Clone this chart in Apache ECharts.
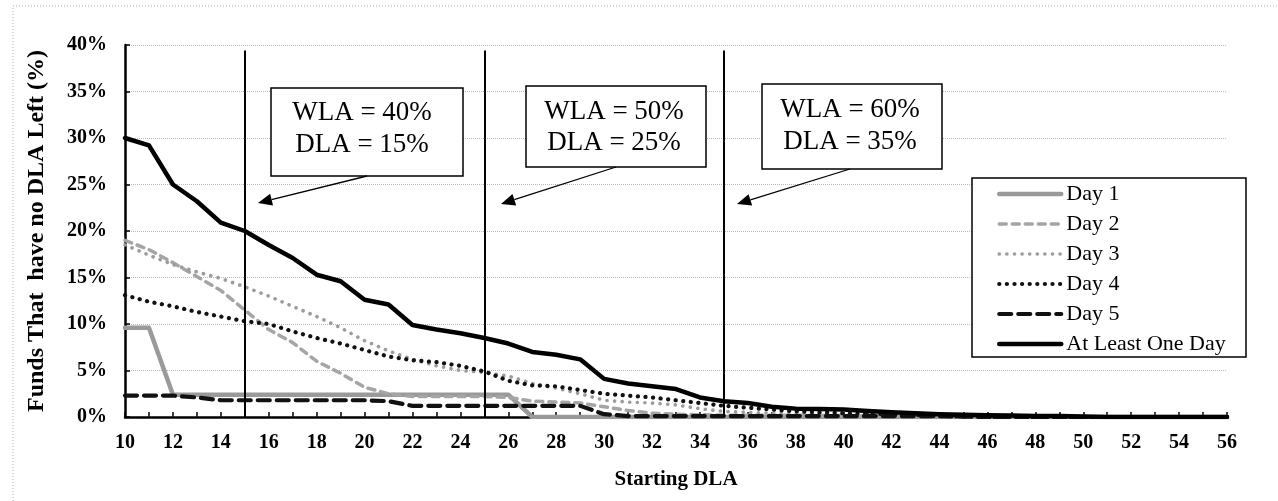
<!DOCTYPE html>
<html>
<head>
<meta charset="utf-8">
<script src="https://cdn.jsdelivr.net/npm/echarts@6/dist/echarts.min.js"></script>
<style>
html,body{margin:0;padding:0;background:#fff;}
#chart{width:1278px;height:501px;}
</style>
</head>
<body>
<div id="chart"></div>
<script>
// ---- data ----
var startingDLA = [10,11,12,13,14,15,16,17,18,19,20,21,22,23,24,25,26,27,28,29,30,31,32,33,34,35,36,37,38,39,40,41,42,43,44,45,46,47,48,49,50,51,52,53,54,55,56];
var day1 = [9.6,9.6,2.4,2.4,2.4,2.4,2.4,2.4,2.4,2.4,2.4,2.4,2.4,2.4,2.4,2.4,2.4,0,0,0,0,0,0,0,0,0,0,0,0,0,0,0,0,0,0,0,0,0,0,0,0,0,0,0,0,0,0];
var day2 = [19.0,18.0,16.6,15.1,13.6,11.5,9.4,8.0,6.0,4.7,3.2,2.5,2.2,2.2,2.2,2.2,2.1,1.7,1.6,1.5,1.1,0.7,0.4,0.3,0.25,0.2,0.2,0.2,0.2,0.15,0.15,0.1,0.1,0.1,0.05,0.05,0,0,0,0,0,0,0,0,0,0,0];
var day3 = [18.5,17.4,16.4,15.6,14.9,14.0,13.0,11.9,10.8,9.6,8.2,7.1,6.2,5.5,5.0,4.8,4.4,3.6,3.1,2.5,1.8,1.6,1.5,1.3,0.9,0.6,0.5,0.4,0.35,0.3,0.3,0.25,0.2,0.15,0.1,0.05,0,0,0,0,0,0,0,0,0,0,0];
var day4 = [13.1,12.4,11.9,11.3,10.8,10.3,10.0,9.2,8.5,7.9,7.2,6.5,6.1,5.9,5.5,4.9,3.9,3.4,3.3,2.9,2.5,2.3,2.1,1.8,1.5,1.2,1.0,0.8,0.6,0.5,0.4,0.35,0.3,0.2,0.1,0.05,0,0,0,0,0,0,0,0,0,0,0];
var day5 = [2.3,2.3,2.3,2.1,1.8,1.8,1.8,1.8,1.8,1.8,1.8,1.7,1.2,1.2,1.2,1.2,1.2,1.2,1.2,1.2,0.3,0.1,0.1,0.1,0.1,0.1,0.1,0.1,0.1,0.1,0.1,0.1,0.1,0.1,0.1,0.05,0,0,0,0,0,0,0,0,0,0,0];
var atLeastOneDay = [30.0,29.2,25.0,23.2,20.9,20.0,18.5,17.1,15.3,14.6,12.6,12.1,9.9,9.4,9.0,8.5,7.9,7.0,6.7,6.2,4.1,3.6,3.3,3.0,2.1,1.7,1.5,1.1,0.9,0.85,0.8,0.65,0.5,0.4,0.3,0.25,0.2,0.15,0.1,0.1,0.05,0,0,0,0,0,0];
var seriesNames = ['Day 1','Day 2','Day 3','Day 4','Day 5','At Least One Day'];
var thresholdDLA = [15, 25, 35];
var boxLines = [['WLA = 40%','DLA = 15%'],['WLA = 50%','DLA = 25%'],['WLA = 60%','DLA = 35%']];
var yTicks = {min:0, max:40, interval:5};
var xTicks = {min:10, max:56, interval:1};

function pairs(arr){ return startingDLA.map(function(x,i){ return [x, arr[i]]; }); }

var SERIF = "'Liberation Serif','Times New Roman',serif";

var chart = echarts.init(document.getElementById('chart'), null, {renderer:'canvas'});

var styles = [
  {color:'#9a9a9a', width:4.5, type:'solid', z:3},
  {color:'#a5a5a5', width:3.5, type:[7,6], z:3},
  {color:'#9c9c9c', width:3.6, type:[0.1,7.5], z:3},
  {color:'#111111', width:4.2, type:[0.1,7.5], z:4},
  {color:'#111111', width:4.2, type:[12,7], z:4},
  {color:'#000000', width:4.5, type:'solid', z:5}
];
var seriesData = [day1, day2, day3, day4, day5, atLeastOneDay];

var series = seriesNames.map(function(name, i){
  var s = styles[i];
  return {
    name: name, type: 'line', data: pairs(seriesData[i]), symbol: 'none', showSymbol:false,
    z: s.z, animation: false, silent: true,
    lineStyle: { color: s.color, width: s.width, type: s.type, cap: 'round', join:'round' },
    itemStyle: { color: s.color, opacity: 0 }
  };
});
series[5].markLine = {
  silent: true, symbol: ['none','none'], animation:false,
  label: {show:false},
  lineStyle: { color:'#000', width: 2, type:'solid', opacity:1 },
  data: thresholdDLA.map(function(v){ return [{coord:[v,0]},{coord:[v,39.4]}]; })
};

// annotation geometry (pixels)
var boxes = [
  {l:271, t:88, r:463, b:176, tx:362, ty1:113, ty2:145, from:[367,176], tip:[258,203]},
  {l:526, t:86, r:706, b:167, tx:614, ty1:112, ty2:143, from:[616,167], tip:[501,204]},
  {l:762, t:84, r:942, b:169, tx:850, ty1:110, ty2:142, from:[850,169], tip:[737,204]}
];
var graphics = [];
graphics.push({type:'polyline', shape:{points:[[13,501],[13,6],[1278,6]]}, style:{stroke:'#b0b0b0', lineWidth:1, lineDash:[1,2], fill:null}, z:1, silent:true});
boxes.forEach(function(bx, i){
  graphics.push({type:'rect', shape:{x:bx.l, y:bx.t, width:bx.r-bx.l, height:bx.b-bx.t}, style:{fill:'#fff', stroke:'#000', lineWidth:1.5}, z:20, silent:true});
  graphics.push({type:'text', x:bx.tx, y:bx.ty1, style:{text:boxLines[i][0], font:'27px '+SERIF, fill:'#000', textAlign:'center', textVerticalAlign:'middle'}, z:21, silent:true});
  graphics.push({type:'text', x:bx.tx, y:bx.ty2, style:{text:boxLines[i][1], font:'27px '+SERIF, fill:'#000', textAlign:'center', textVerticalAlign:'middle'}, z:21, silent:true});
  var dx = bx.tip[0]-bx.from[0], dy = bx.tip[1]-bx.from[1];
  var len = Math.sqrt(dx*dx+dy*dy), ux = dx/len, uy = dy/len;
  var hl = 14, hw = 6;
  var bxp = bx.tip[0]-ux*hl, byp = bx.tip[1]-uy*hl;
  graphics.push({type:'line', shape:{x1:bx.from[0], y1:bx.from[1], x2:bxp, y2:byp}, style:{stroke:'#000', lineWidth:1.3}, z:20, silent:true});
  graphics.push({type:'polygon', shape:{points:[[bx.tip[0],bx.tip[1]],[bxp-uy*hw, byp+ux*hw],[bxp+uy*hw, byp-ux*hw]]}, style:{fill:'#000'}, z:20, silent:true});
});
graphics.push({type:'rect', shape:{x:972, y:178, width:274, height:179}, style:{fill:'#fff', stroke:'#000', lineWidth:1.5}, z:20, silent:true});

var option = {
  backgroundColor: '#fff',
  animation: false,
  grid: { left:125, right:51, top:45, bottom:84, containLabel:false },
  legend: {
    orient:'vertical', left: 997, top: 183, z: 30, padding: 0,
    itemWidth: 62, itemHeight: 22, itemGap: 8,
    data: seriesNames.map(function(n, i){
      return { name: n, lineStyle: { color: styles[i].color, width: styles[i].width, type: styles[i].type, cap:'round', opacity:1 },
               itemStyle: { opacity: 0 } };
    }),
    itemStyle: { opacity: 0 },
    textStyle: { fontFamily: SERIF, fontSize: 22, color:'#000' },
    selectedMode: false
  },
  xAxis: {
    type:'value', min:xTicks.min, max:xTicks.max, interval:xTicks.interval,
    name:'Starting DLA', nameLocation:'middle', nameGap: 52,
    nameTextStyle:{ fontFamily:SERIF, fontWeight:'bold', fontSize:21, color:'#000' },
    axisLine:{ show:true, onZero:false, lineStyle:{ color:'#000', width:2.5 } },
    axisTick:{ show:true, inside:true, length:5, lineStyle:{ color:'#000', width:1.5 } },
    axisLabel:{ fontFamily:SERIF, fontWeight:'bold', fontSize:20, color:'#000', margin:16,
      formatter:function(v){ return (v % 2 === 0) ? String(v) : ''; } },
    splitLine:{ show:false }
  },
  yAxis: {
    type:'value', min:yTicks.min, max:yTicks.max, interval:yTicks.interval,
    name:'Funds That  have no DLA Left (%)', nameLocation:'middle', nameGap: 76,
    nameTextStyle:{ fontFamily:SERIF, fontWeight:'bold', fontSize:24, color:'#000' },
    axisLine:{ show:true, lineStyle:{ color:'#000', width:2.5 } },
    axisTick:{ show:true, inside:true, length:5, lineStyle:{ color:'#000', width:1.5 } },
    axisLabel:{ fontFamily:SERIF, fontWeight:'bold', fontSize:20, color:'#000', margin:18,
      formatter:'{value}%' },
    splitLine:{ show:true, lineStyle:{ color:'#b8b8b8', width:1, type:[1,1] } }
  },
  series: series,
  graphic: graphics
};
chart.setOption(option);
</script>
</body>
</html>
